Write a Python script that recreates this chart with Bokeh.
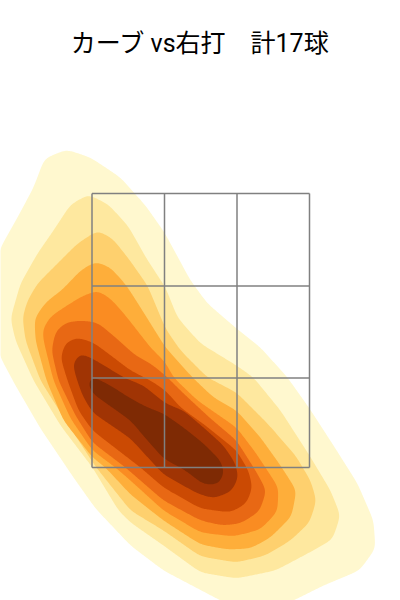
from bokeh.plotting import figure
from bokeh.embed import file_html
from bokeh.resources import INLINE
from bokeh.core.properties import value
import numpy as np

title_text = "カーブ vs右打　計17球"
grid_x = [91.5, 164, 236.5, 309]
grid_y = [193, 285.5, 377.5, 467]
colors = ["#fff8cf", "#fee89f", "#fed06e", "#feae3a", "#fa8c22", "#e86814", "#cb4a03", "#a03404", "#7e2a04"]

lvl1 = [(66,149),(90,157),(120,177),(145,205),(164,232),(190,280),(207,303),(236,328),(260,347),(287,377),(309,408),(333,445),(357,483),(373,520),(375,548),(359,570),(323,585),(293,600),(255,615),(220,600),(163,570),(130,545),(95,508),(73,477),(40,428),(15,385),(0,357),(-14,310),(0,247),(17,217),(33,187),(44,158)]
lvl2 = [(88,194),(108,204),(128,226),(146,258),(165,287),(177,317),(200,343),(236,365),(253,377),(280,410),(309,455),(330,490),(340,515),(332,539),(309,552),(275,570),(236,578),(200,572),(163,545),(130,522),(118,510),(92,467),(60,425),(33,380),(15,340),(10,318),(20,283),(37,253),(53,230),(70,204)]
lvl3 = [(97,230),(112,238),(128,258),(147,285),(165,328),(180,350),(207,377),(236,392),(267,423),(295,455),(310,480),(316,500),(309,522),(290,540),(265,555),(236,562),(200,556),(163,530),(130,510),(95,466),(65,420),(40,380),(25,340),(22,317),(27,300),(37,283),(57,263),(77,243)]
lvl4 = [(95,261),(110,267),(126,285),(140,307),(150,323),(165,347),(192,377),(213,397),(236,410),(260,437),(280,465),(296,490),(291,516),(270,537),(250,548),(227,549),(200,544),(163,520),(130,494),(105,467),(92,457),(63,420),(46,380),(35,340),(34,318),(45,302),(62,289),(80,270)]
lvl5 = [(97,290),(110,298),(125,315),(150,347),(165,362),(173,377),(197,400),(236,427),(255,452),(278,487),(277,511),(260,529),(233,536),(200,532),(163,510),(130,480),(115,467),(92,450),(70,418),(53,380),(43,340),(42,329),(50,316),(68,304),(83,295)]
lvl6 = [(80,320),(97,322),(115,337),(135,355),(150,363),(165,375),(183,393),(210,418),(236,440),(255,470),(266,490),(259,511),(240,523),(222,525),(200,520),(163,500),(125,467),(92,442),(75,415),(58,380),(51,350),(55,331),(65,322)]
lvl7 = [(77,337),(93,342),(113,357),(130,370),(150,380),(165,390),(180,407),(205,425),(236,450),(248,470),(252,487),(246,503),(230,512),(200,508),(163,487),(140,467),(92,430),(78,410),(67,380),(60,357),(65,342)]
lvl8 = [(80,353),(92,358),(107,367),(123,377),(143,385),(165,403),(183,410),(203,427),(223,445),(235,463),(238,477),(231,491),(213,498),(197,493),(163,474),(130,438),(92,412),(82,395),(76,378),(72,363)]
lvl9 = [(92,376),(110,385),(130,398),(147,407),(163,413),(183,427),(203,443),(220,460),(224,472),(218,484),(203,484),(185,470),(163,458),(147,440),(130,420),(92,393),(87,383)]
levels = [lvl1, lvl2, lvl3, lvl4, lvl5, lvl6, lvl7, lvl8, lvl9]


def smooth(points, sigma=5.0):
    pts = np.array(points, dtype=float)
    closed = np.vstack([pts, pts[:1]])
    seg = np.hypot(*np.diff(closed, axis=0).T)
    s = np.concatenate([[0], np.cumsum(seg)])
    u = np.arange(0, s[-1], 1.0)
    x, y = np.interp(u, s, closed[:, 0]), np.interp(u, s, closed[:, 1])
    k = np.arange(-int(4 * sigma), int(4 * sigma) + 1)
    w = np.exp(-0.5 * (k / sigma) ** 2)
    w /= w.sum()
    def conv(a):
        ext = np.concatenate([a[-len(k):], a, a[:len(k)]])
        return np.convolve(ext, w, mode="same")[len(k):-len(k)]
    return conv(x).tolist(), conv(y).tolist()


p = figure(width=400, height=600, x_range=(0, 400), y_range=(600, 0), output_backend="svg",
           toolbar_location=None, min_border=0, outline_line_color=None)
p.axis.visible = False
p.grid.visible = False
for lvl, col in zip(levels, colors):
    xs, ys = smooth(lvl)
    p.patch(xs, ys, fill_color=col, line_color=None)

for gx in grid_x:
    p.line([gx, gx], [grid_y[0], grid_y[-1]], line_color="#808080", line_width=1.5)
for gy in grid_y:
    p.line([grid_x[0], grid_x[-1]], [gy, gy], line_color="#808080", line_width=1.5)

p.text([200], [42.5], text=[title_text], text_font=value("Roboto, 'Noto Sans CJK JP'"), text_font_size="25px",
       text_align="center", text_baseline="middle", text_color="#000000")

open("out.html", "w").write(file_html(p, INLINE))
